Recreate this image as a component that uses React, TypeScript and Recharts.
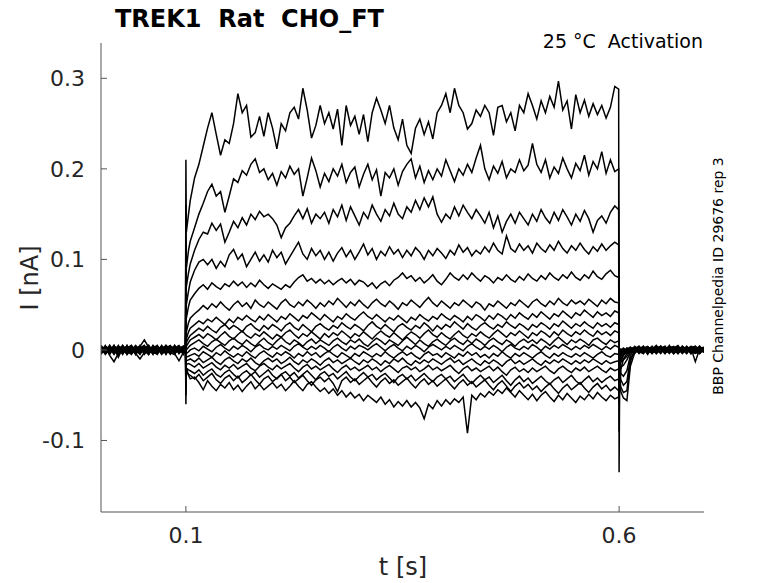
import { LineChart, Line, XAxis, YAxis } from "recharts";

// time grids in seconds
const preT = [
  0.002, 0.007, 0.012, 0.017, 0.022, 0.027, 0.032, 0.037, 0.042, 0.047,
  0.052, 0.057, 0.062, 0.067, 0.072, 0.077, 0.082, 0.087, 0.092, 0.097,
  0.0995,
];
const stepT = [
  0.1, 0.1005, 0.103,
  0.105, 0.11, 0.115, 0.12, 0.125, 0.13, 0.135, 0.14, 0.145, 0.15,
  0.155, 0.16, 0.165, 0.17, 0.175, 0.18, 0.185, 0.19, 0.195, 0.2,
  0.205, 0.21, 0.215, 0.22, 0.225, 0.23, 0.235, 0.24, 0.245, 0.25,
  0.255, 0.26, 0.265, 0.27, 0.275, 0.28, 0.285, 0.29, 0.295, 0.3,
  0.305, 0.31, 0.315, 0.32, 0.325, 0.33, 0.335, 0.34, 0.345, 0.35,
  0.355, 0.36, 0.365, 0.37, 0.375, 0.38, 0.385, 0.39, 0.395, 0.4,
  0.405, 0.41, 0.415, 0.42, 0.425, 0.43, 0.435, 0.44, 0.445, 0.45,
  0.455, 0.46, 0.465, 0.47, 0.475, 0.48, 0.485, 0.49, 0.495, 0.5,
  0.505, 0.51, 0.515, 0.52, 0.525, 0.53, 0.535, 0.54, 0.545, 0.55,
  0.555, 0.56, 0.565, 0.57, 0.575, 0.58, 0.585, 0.59, 0.595,
  0.5995,
];
const postT = [
  0.6, 0.6005, 0.602, 0.605, 0.609, 0.613,
  0.618, 0.623, 0.628, 0.633, 0.638, 0.643, 0.648, 0.653, 0.658, 0.663,
  0.668, 0.673, 0.678, 0.683, 0.688, 0.693, 0.698,
];

const yTicks = [-0.1, 0, 0.1, 0.2, 0.3];
const xTicks = [0.1, 0.6];

// current in nA, sweeps from top to bottom
const sweep1Pre = [0.002, -0.003, 0.004, -0.002, 0.003, -0.004, 0.001, 0.005, -0.002, 0.003, -0.004, 0.002, -0.001, 0.004, -0.003, 0.002, 0.005, -0.002, 0.001, -0.004, 0.0];
const sweep1Step = [
  0.21, 0.13, 0.15,
  0.165, 0.19, 0.205, 0.225, 0.245, 0.262, 0.238, 0.215, 0.232, 0.228,
  0.25, 0.283, 0.262, 0.27, 0.235, 0.24, 0.258, 0.236, 0.262, 0.245,
  0.222, 0.25, 0.242, 0.262, 0.268, 0.255, 0.289, 0.265, 0.234, 0.248,
  0.27, 0.25, 0.262, 0.244, 0.266, 0.226, 0.27, 0.248, 0.258, 0.238,
  0.26, 0.23, 0.262, 0.278, 0.265, 0.25, 0.27, 0.245, 0.232, 0.255,
  0.226, 0.217, 0.245, 0.255, 0.238, 0.252, 0.233, 0.262, 0.27, 0.283,
  0.262, 0.289, 0.27, 0.262, 0.244, 0.25, 0.265, 0.258, 0.27, 0.262,
  0.237, 0.268, 0.27, 0.252, 0.262, 0.242, 0.27, 0.262, 0.283, 0.27,
  0.255, 0.275, 0.262, 0.28, 0.268, 0.297, 0.265, 0.275, 0.244, 0.282,
  0.262, 0.276, 0.258, 0.272, 0.26, 0.27, 0.256, 0.268, 0.291,
  0.288,
];
const sweep1Post = [-0.135, -0.05, -0.022, -0.01, -0.004, -0.001, 0.003, -0.002, 0.004, -0.003, 0.001, 0.005, -0.002, 0.002, -0.004, 0.003, -0.001, 0.004, -0.003, 0.002, -0.002, 0.003, 0.0];

const sweep2Pre = [-0.004, 0.002, -0.001, 0.005, -0.003, 0.002, -0.005, 0.003, 0.001, -0.003, 0.004, -0.002, 0.003, -0.004, 0.002, -0.001, -0.004, 0.003, -0.002, 0.004, 0.001];
const sweep2Step = [
  0.16, 0.09, 0.11,
  0.12, 0.135, 0.15, 0.162, 0.175, 0.183, 0.17, 0.175, 0.152, 0.17,
  0.189, 0.185, 0.198, 0.193, 0.205, 0.211, 0.196, 0.2, 0.188, 0.195,
  0.182, 0.197, 0.19, 0.203, 0.194, 0.2, 0.17, 0.19, 0.212, 0.198,
  0.18, 0.195, 0.186, 0.2, 0.192, 0.205, 0.185, 0.196, 0.202, 0.18,
  0.194, 0.205, 0.188, 0.199, 0.17, 0.196, 0.19, 0.2, 0.182, 0.197,
  0.205, 0.211, 0.19, 0.203, 0.185, 0.198, 0.188, 0.2, 0.192, 0.21,
  0.198, 0.186, 0.2, 0.193, 0.205, 0.196, 0.212, 0.226, 0.2, 0.188,
  0.203, 0.195, 0.208, 0.19, 0.2, 0.196, 0.21, 0.198, 0.204, 0.228,
  0.205, 0.196, 0.21, 0.19, 0.202, 0.195, 0.212, 0.2, 0.19, 0.206,
  0.198, 0.215, 0.193, 0.208, 0.2, 0.219, 0.195, 0.21, 0.197,
  0.2,
];
const sweep2Post = [-0.09, -0.03, -0.013, -0.006, -0.002, 0.001, -0.003, 0.004, -0.001, 0.002, -0.004, 0.003, 0.001, -0.003, 0.005, -0.002, 0.002, -0.004, 0.001, 0.004, -0.003, 0.001, 0.002];

const sweep3Pre = [0.005, -0.001, 0.003, -0.005, 0.002, 0.004, -0.002, -0.004, 0.003, 0.001, -0.002, 0.005, -0.003, 0.001, 0.004, -0.004, 0.002, 0.004, -0.003, 0.002, -0.002];
const sweep3Step = [
  0.12, 0.07, 0.085,
  0.095, 0.11, 0.122, 0.13, 0.128, 0.14, 0.132, 0.139, 0.119, 0.13,
  0.142, 0.135, 0.146, 0.138, 0.15, 0.144, 0.153, 0.147, 0.15, 0.145,
  0.138, 0.124, 0.135, 0.14, 0.148, 0.155, 0.145, 0.156, 0.14, 0.15,
  0.145, 0.152, 0.14, 0.155, 0.147, 0.16, 0.143, 0.158, 0.148, 0.138,
  0.152, 0.145, 0.16, 0.15, 0.142, 0.155, 0.148, 0.162, 0.15, 0.145,
  0.158, 0.152, 0.165, 0.155, 0.168, 0.158, 0.169, 0.15, 0.141, 0.15,
  0.145, 0.158, 0.148, 0.16, 0.152, 0.145, 0.155, 0.148, 0.14, 0.152,
  0.135, 0.148, 0.13, 0.142, 0.15, 0.14, 0.152, 0.145, 0.138, 0.15,
  0.142, 0.155, 0.146, 0.14, 0.152, 0.143, 0.155, 0.147, 0.138, 0.15,
  0.142, 0.154, 0.145, 0.13, 0.143, 0.148, 0.14, 0.152, 0.159,
  0.155,
];
const sweep3Post = [-0.06, -0.02, -0.01, -0.005, 0.0, -0.002, 0.004, -0.001, 0.002, -0.005, 0.003, -0.002, 0.004, 0.0, -0.003, 0.002, 0.005, -0.002, 0.003, -0.004, 0.002, -0.001, -0.002];

const sweep4Pre = [0.0, 0.004, -0.006, -0.013, -0.004, 0.001, 0.003, -0.002, 0.004, -0.003, 0.002, -0.004, 0.005, -0.001, 0.002, 0.004, -0.003, -0.005, 0.003, -0.001, 0.002];
const sweep4Step = [
  0.09, 0.05, 0.065,
  0.075, 0.088, 0.097, 0.1, 0.094, 0.1, 0.09, 0.098, 0.092, 0.105,
  0.111, 0.1, 0.106, 0.092, 0.1, 0.108, 0.098, 0.105, 0.097, 0.11,
  0.102, 0.108, 0.095, 0.103, 0.111, 0.119, 0.106, 0.1, 0.112, 0.104,
  0.11, 0.1, 0.108, 0.098, 0.107, 0.113, 0.103, 0.11, 0.1, 0.108,
  0.117, 0.105, 0.112, 0.1, 0.109, 0.104, 0.114, 0.106, 0.111, 0.102,
  0.11, 0.104, 0.113, 0.108, 0.1, 0.11, 0.104, 0.112, 0.107, 0.101,
  0.11, 0.105, 0.116, 0.108, 0.113, 0.104, 0.11, 0.106, 0.114, 0.108,
  0.118, 0.11, 0.106, 0.126, 0.112, 0.108, 0.117, 0.11, 0.115, 0.107,
  0.118, 0.112, 0.108, 0.116, 0.11, 0.12, 0.112, 0.107, 0.115, 0.11,
  0.118, 0.111, 0.106, 0.114, 0.109, 0.117, 0.11, 0.115, 0.119,
  0.116,
];
const sweep4Post = [-0.04, -0.015, -0.007, -0.003, 0.002, -0.001, 0.001, 0.003, -0.004, 0.002, -0.001, 0.004, -0.003, 0.002, 0.001, -0.004, 0.003, -0.002, 0.004, -0.001, -0.003, 0.003, 0.001];

const sweep5Pre = [-0.002, 0.001, 0.004, -0.003, 0.005, -0.002, 0.002, -0.005, 0.001, 0.004, 0.011, 0.003, -0.003, 0.002, -0.004, 0.005, 0.001, -0.002, 0.004, -0.003, 0.003];
const sweep5Step = [
  0.07, 0.035, 0.048,
  0.055, 0.062, 0.068, 0.072, 0.067, 0.074, 0.07, 0.067, 0.073, 0.07,
  0.076, 0.071, 0.075, 0.069, 0.074, 0.07, 0.077, 0.072, 0.068, 0.073,
  0.07, 0.067, 0.072, 0.069, 0.075, 0.08, 0.083, 0.076, 0.079, 0.074,
  0.078, 0.073, 0.077, 0.072, 0.076, 0.079, 0.074, 0.078, 0.072, 0.077,
  0.075, 0.07, 0.074, 0.068, 0.073, 0.076, 0.071, 0.077, 0.08, 0.085,
  0.079, 0.082, 0.076, 0.08, 0.074, 0.078, 0.083, 0.076, 0.072, 0.078,
  0.085, 0.08, 0.077, 0.083, 0.078, 0.085, 0.08, 0.076, 0.082, 0.079,
  0.074, 0.08, 0.077, 0.083, 0.078, 0.075, 0.081, 0.077, 0.084, 0.079,
  0.076, 0.082, 0.078, 0.085, 0.08, 0.077, 0.083, 0.079, 0.086, 0.08,
  0.077, 0.083, 0.079, 0.087, 0.081, 0.078, 0.084, 0.088, 0.082,
  0.08,
];
const sweep5Post = [-0.03, -0.01, -0.005, -0.001, -0.003, 0.002, -0.002, 0.001, 0.004, -0.003, 0.002, -0.004, 0.001, 0.004, -0.002, 0.003, -0.004, 0.001, -0.001, 0.003, 0.004, -0.002, 0.002];

const sweep6Pre = [0.003, -0.005, 0.001, 0.003, -0.002, 0.005, -0.003, 0.002, -0.004, -0.01, -0.003, 0.004, -0.001, 0.003, -0.005, 0.001, 0.003, -0.004, -0.012, -0.003, 0.001];
const sweep6Step = [
  0.05, 0.02, 0.03,
  0.035, 0.04, 0.044, 0.049, 0.045, 0.051, 0.047, 0.053, 0.048, 0.044,
  0.05, 0.054, 0.048, 0.052, 0.046, 0.055, 0.05, 0.047, 0.053, 0.049,
  0.045, 0.052, 0.056, 0.05, 0.047, 0.053, 0.049, 0.055, 0.051, 0.046,
  0.052, 0.048, 0.054, 0.05, 0.057, 0.052, 0.047, 0.053, 0.049, 0.055,
  0.05, 0.046, 0.052, 0.056, 0.051, 0.048, 0.054, 0.05, 0.045, 0.052,
  0.049, 0.055, 0.051, 0.047, 0.053, 0.058, 0.052, 0.048, 0.054, 0.05,
  0.046, 0.052, 0.049, 0.055, 0.051, 0.047, 0.053, 0.05, 0.044, 0.051,
  0.048, 0.054, 0.05, 0.046, 0.052, 0.049, 0.055, 0.051, 0.047, 0.053,
  0.056, 0.051, 0.048, 0.054, 0.05, 0.057, 0.052, 0.049, 0.055, 0.051,
  0.054, 0.05, 0.056, 0.052, 0.048, 0.055, 0.051, 0.057, 0.053,
  0.052,
];
const sweep6Post = [-0.02, -0.008, -0.004, 0.001, -0.002, 0.003, 0.0, -0.003, 0.002, 0.004, -0.002, 0.001, -0.004, 0.003, -0.001, 0.002, -0.003, 0.004, 0.001, -0.002, -0.004, -0.002, 0.003];

const sweep7Pre = [-0.005, 0.003, -0.002, 0.001, 0.004, -0.004, 0.002, 0.005, -0.002, 0.003, -0.001, -0.005, 0.002, 0.004, -0.003, 0.001, -0.004, 0.002, 0.005, -0.002, -0.003];
const sweep7Step = [
  0.04, 0.012, 0.02,
  0.024, 0.028, 0.032, 0.029, 0.034, 0.031, 0.036, 0.032, 0.028, 0.034,
  0.03, 0.036, 0.033, 0.038, 0.034, 0.031, 0.037, 0.033, 0.039, 0.035,
  0.031, 0.037, 0.034, 0.04, 0.036, 0.032, 0.038, 0.035, 0.041, 0.037,
  0.033, 0.039, 0.035, 0.031, 0.037, 0.034, 0.04, 0.036, 0.033, 0.038,
  0.042, 0.037, 0.034, 0.039, 0.035, 0.031, 0.036, 0.033, 0.038, 0.034,
  0.03, 0.036, 0.033, 0.039, 0.035, 0.032, 0.037, 0.034, 0.04, 0.036,
  0.033, 0.038, 0.035, 0.031, 0.037, 0.033, 0.039, 0.036, 0.032, 0.038,
  0.034, 0.04, 0.037, 0.033, 0.039, 0.035, 0.041, 0.037, 0.034, 0.04,
  0.036, 0.042, 0.038, 0.034, 0.04, 0.037, 0.043, 0.039, 0.035, 0.041,
  0.038, 0.044, 0.04, 0.036, 0.042, 0.038, 0.041, 0.037, 0.043,
  0.041,
];
const sweep7Post = [-0.015, -0.006, -0.002, -0.002, 0.002, 0.0, 0.003, -0.004, 0.001, -0.001, 0.004, -0.003, 0.002, -0.002, 0.003, 0.0, 0.004, -0.003, 0.002, -0.004, 0.001, 0.003, -0.003];

const sweep8Pre = [0.004, -0.002, 0.002, -0.004, 0.001, 0.003, -0.005, 0.0, 0.005, -0.002, 0.001, 0.004, -0.004, -0.002, 0.003, -0.005, 0.004, 0.001, -0.002, 0.003, 0.0];
const sweep8Step = [
  0.03, 0.008, 0.013,
  0.016, 0.02, 0.024, 0.021, 0.026, 0.022, 0.019, 0.025, 0.028, 0.023,
  0.027, 0.024, 0.02, 0.026, 0.029, 0.024, 0.021, 0.027, 0.023, 0.028,
  0.025, 0.021, 0.027, 0.03, 0.025, 0.022, 0.028, 0.024, 0.02, 0.026,
  0.029, 0.025, 0.022, 0.027, 0.024, 0.03, 0.026, 0.023, 0.028, 0.025,
  0.021, 0.027, 0.031, 0.026, 0.023, 0.028, 0.024, 0.02, 0.026, 0.029,
  0.025, 0.022, 0.027, 0.024, 0.03, 0.026, 0.021, 0.027, 0.023, 0.028,
  0.025, 0.031, 0.027, 0.023, 0.029, 0.025, 0.022, 0.027, 0.03, 0.026,
  0.023, 0.028, 0.025, 0.031, 0.027, 0.024, 0.029, 0.026, 0.022, 0.028,
  0.025, 0.03, 0.027, 0.023, 0.029, 0.026, 0.032, 0.028, 0.024, 0.029,
  0.026, 0.031, 0.027, 0.024, 0.03, 0.026, 0.029, 0.025, 0.03,
  0.028,
];
const sweep8Post = [-0.012, -0.004, -0.001, 0.002, -0.001, -0.002, 0.002, 0.004, -0.003, 0.001, -0.004, 0.002, 0.004, -0.002, 0.0, -0.003, 0.002, 0.001, -0.004, 0.003, 0.002, -0.003, 0.001];

const sweep9Pre = [-0.003, 0.005, -0.004, 0.002, -0.008, 0.002, 0.004, -0.003, 0.001, -0.005, 0.003, 0.0, 0.004, -0.003, 0.005, -0.002, 0.001, -0.004, 0.002, 0.004, 0.002];
const sweep9Step = [
  0.02, 0.004, 0.008,
  0.011, 0.014, 0.017, 0.013, 0.018, 0.015, 0.011, 0.016, 0.02, 0.015,
  0.012, 0.017, 0.021, 0.016, 0.013, 0.018, 0.015, 0.02, 0.016, 0.012,
  0.017, 0.014, 0.019, 0.022, 0.017, 0.013, 0.018, 0.015, 0.02, 0.016,
  0.012, 0.018, 0.014, 0.019, 0.016, 0.021, 0.017, 0.013, 0.018, 0.015,
  0.02, 0.016, 0.012, 0.017, 0.021, 0.017, 0.014, 0.019, 0.015, 0.011,
  0.016, 0.02, 0.017, 0.013, 0.018, 0.022, 0.017, 0.014, 0.019, 0.015,
  0.012, 0.017, 0.021, 0.016, 0.013, 0.018, 0.015, 0.02, 0.016, 0.013,
  0.018, 0.022, 0.018, 0.014, 0.019, 0.016, 0.021, 0.017, 0.013, 0.019,
  0.016, 0.021, 0.018, 0.014, 0.02, 0.016, 0.022, 0.018, 0.015, 0.02,
  0.017, 0.022, 0.018, 0.015, 0.021, 0.017, 0.02, 0.016, 0.021,
  0.019,
];
const sweep9Post = [-0.01, -0.003, 0.0, -0.003, 0.001, 0.003, -0.004, 0.001, 0.003, -0.002, 0.002, -0.001, 0.003, -0.004, 0.002, 0.004, -0.002, -0.001, 0.003, -0.003, 0.001, 0.004, -0.001];

const sweep10Pre = [0.001, -0.004, 0.005, -0.001, 0.002, -0.003, 0.005, -0.004, 0.003, 0.001, -0.003, 0.002, -0.005, 0.004, -0.001, 0.003, -0.002, 0.005, -0.004, 0.001, -0.001];
const sweep10Step = [
  0.01, 0.0, 0.003,
  0.005, 0.008, 0.011, 0.007, 0.004, 0.009, 0.012, 0.008, 0.005, 0.01,
  0.013, 0.009, 0.006, 0.011, 0.007, 0.004, 0.009, 0.013, 0.008, 0.005,
  0.01, 0.014, 0.009, 0.006, 0.011, 0.008, 0.004, 0.009, 0.012, 0.007,
  0.011, 0.008, 0.005, 0.01, 0.013, 0.009, 0.006, 0.011, 0.008, 0.012,
  0.007, 0.004, 0.009, 0.013, 0.01, 0.006, 0.011, 0.008, 0.005, 0.01,
  0.014, 0.01, 0.006, 0.011, 0.007, 0.004, 0.009, 0.012, 0.008, 0.005,
  0.01, 0.013, 0.009, 0.006, 0.011, 0.007, 0.012, 0.009, 0.005, 0.01,
  0.013, 0.009, 0.006, 0.011, 0.008, 0.004, 0.009, 0.012, 0.008, 0.011,
  0.007, 0.012, 0.009, 0.005, 0.01, 0.014, 0.01, 0.006, 0.011, 0.008,
  0.012, 0.009, 0.005, 0.011, 0.013, 0.009, 0.006, 0.011, 0.008,
  0.01,
];
const sweep10Post = [-0.008, -0.002, 0.001, 0.0, -0.003, 0.001, 0.003, -0.002, -0.004, 0.003, 0.001, -0.002, 0.004, -0.001, -0.003, 0.002, 0.004, -0.003, 0.0, 0.002, -0.002, -0.004, 0.002];

const sweep11Pre = [-0.001, 0.002, -0.005, 0.004, -0.002, 0.003, -0.001, 0.004, -0.005, 0.002, 0.005, -0.003, 0.001, -0.002, 0.004, -0.004, 0.003, -0.001, 0.002, -0.005, 0.001];
const sweep11Step = [
  0.0, -0.004, -0.002,
  0.0, 0.002, -0.001, 0.004, 0.001, -0.002, 0.003, 0.006, 0.002, -0.001,
  0.004, 0.001, 0.005, 0.002, -0.002, 0.003, 0.006, 0.002, 0.0, 0.004,
  0.001, 0.005, 0.002, -0.001, 0.004, 0.007, 0.003, 0.0, 0.004, 0.001,
  0.005, 0.002, -0.002, 0.003, 0.006, 0.002, -0.001, 0.004, 0.001, 0.005,
  0.003, 0.0, 0.004, 0.007, 0.003, -0.001, 0.003, 0.006, 0.002, -0.001,
  0.004, 0.001, 0.005, 0.002, -0.002, 0.003, 0.006, 0.003, 0.0, 0.004,
  0.001, 0.005, 0.002, -0.001, 0.004, 0.007, 0.003, 0.0, 0.004, 0.001,
  0.005, 0.002, -0.002, 0.003, 0.006, 0.002, 0.0, 0.004, 0.001, 0.006,
  0.003, -0.001, 0.004, 0.001, 0.005, 0.002, 0.006, 0.003, 0.0, 0.004,
  0.001, 0.005, 0.002, 0.006, 0.003, 0.0, 0.004, 0.001, 0.005,
  0.003,
];
const sweep11Post = [-0.005, -0.007, -0.005, -0.003, 0.0, -0.001, -0.002, 0.003, 0.001, -0.004, 0.003, 0.002, -0.003, 0.001, 0.004, -0.004, 0.0, 0.003, -0.002, 0.001, 0.004, -0.001, -0.002];

const sweep12Pre = [0.004, 0.0, -0.003, 0.005, -0.004, -0.001, 0.003, -0.002, 0.004, -0.004, 0.001, -0.003, 0.004, 0.002, -0.004, 0.003, -0.005, 0.002, -0.001, 0.004, -0.003];
const sweep12Step = [
  -0.01, -0.008, -0.007,
  -0.006, -0.004, -0.007, -0.002, -0.005, -0.008, -0.003, -0.006, -0.001, -0.005,
  -0.008, -0.004, -0.007, -0.002, -0.006, -0.009, -0.004, -0.001, -0.005, -0.008,
  -0.003, -0.006, -0.002, -0.005, -0.009, -0.004, -0.007, -0.002, -0.006, -0.003,
  -0.008, -0.004, -0.001, -0.005, -0.008, -0.003, -0.006, -0.009, -0.004, -0.007,
  -0.002, -0.005, -0.008, -0.004, -0.007, -0.002, -0.006, -0.009, -0.005, -0.002,
  -0.006, -0.003, -0.007, -0.01, -0.005, -0.002, -0.006, -0.004, -0.008, -0.003,
  -0.006, -0.009, -0.004, -0.007, -0.002, -0.006, -0.003, -0.008, -0.005, -0.009,
  -0.004, -0.007, -0.002, -0.006, -0.009, -0.004, -0.007, -0.003, -0.006, -0.009,
  -0.005, -0.002, -0.006, -0.009, -0.004, -0.007, -0.003, -0.006, -0.008, -0.004,
  -0.007, -0.003, -0.006, -0.009, -0.005, -0.002, -0.006, -0.008, -0.004,
  -0.005,
];
const sweep12Post = [-0.008, -0.01, -0.013, -0.011, -0.007, -0.001, 0.002, -0.001, 0.003, -0.003, -0.001, 0.004, 0.001, -0.004, 0.002, -0.002, 0.003, 0.0, -0.003, 0.002, -0.001, 0.002, 0.003];

const sweep13Pre = [-0.002, 0.004, 0.001, -0.003, 0.003, -0.005, 0.004, 0.001, -0.003, 0.005, -0.002, 0.003, -0.004, 0.001, -0.002, 0.004, 0.002, -0.003, 0.004, -0.002, 0.001];
const sweep13Step = [
  -0.02, -0.012, -0.011,
  -0.01, -0.013, -0.009, -0.014, -0.011, -0.008, -0.013, -0.016, -0.011, -0.008,
  -0.012, -0.015, -0.01, -0.013, -0.009, -0.014, -0.017, -0.012, -0.009, -0.013,
  -0.01, -0.015, -0.012, -0.008, -0.013, -0.016, -0.011, -0.014, -0.01, -0.013,
  -0.017, -0.012, -0.009, -0.014, -0.011, -0.015, -0.012, -0.009, -0.013, -0.016,
  -0.011, -0.014, -0.01, -0.013, -0.017, -0.012, -0.015, -0.01, -0.013, -0.009,
  -0.014, -0.017, -0.012, -0.015, -0.011, -0.014, -0.01, -0.013, -0.016, -0.012,
  -0.009, -0.014, -0.011, -0.016, -0.013, -0.01, -0.014, -0.017, -0.012, -0.015,
  -0.011, -0.014, -0.018, -0.013, -0.01, -0.015, -0.012, -0.016, -0.013, -0.01,
  -0.014, -0.017, -0.012, -0.015, -0.011, -0.014, -0.01, -0.013, -0.016, -0.012,
  -0.015, -0.011, -0.014, -0.01, -0.013, -0.016, -0.012, -0.015, -0.013,
  -0.012,
];
const sweep13Post = [-0.012, -0.015, -0.019, -0.017, -0.011, -0.003, -0.001, 0.002, -0.003, 0.003, 0.001, -0.002, 0.002, 0.004, -0.003, 0.0, -0.004, 0.003, 0.001, -0.002, 0.003, -0.003, 0.0];

const sweep14Pre = [0.002, -0.004, 0.003, 0.001, -0.005, 0.004, -0.003, 0.003, -0.001, -0.004, 0.002, 0.005, -0.002, -0.005, 0.003, -0.001, 0.004, -0.004, 0.001, 0.003, 0.003];
const sweep14Step = [
  -0.03, -0.016, -0.015,
  -0.016, -0.019, -0.015, -0.02, -0.017, -0.014, -0.019, -0.022, -0.017, -0.02,
  -0.016, -0.021, -0.018, -0.015, -0.02, -0.023, -0.018, -0.015, -0.019, -0.022,
  -0.017, -0.021, -0.018, -0.015, -0.02, -0.024, -0.019, -0.016, -0.021, -0.018,
  -0.022, -0.019, -0.016, -0.021, -0.025, -0.02, -0.017, -0.022, -0.019, -0.023,
  -0.02, -0.017, -0.022, -0.019, -0.024, -0.02, -0.017, -0.021, -0.025, -0.02,
  -0.018, -0.022, -0.019, -0.024, -0.021, -0.017, -0.022, -0.019, -0.023, -0.02,
  -0.017, -0.022, -0.026, -0.021, -0.018, -0.023, -0.02, -0.024, -0.021, -0.018,
  -0.023, -0.019, -0.024, -0.028, -0.022, -0.019, -0.024, -0.021, -0.025, -0.02,
  -0.024, -0.021, -0.018, -0.023, -0.026, -0.021, -0.018, -0.022, -0.025, -0.02,
  -0.023, -0.019, -0.024, -0.021, -0.018, -0.022, -0.025, -0.02, -0.023,
  -0.021,
];
const sweep14Post = [-0.02, -0.018, -0.026, -0.029, -0.023, -0.006, 0.001, -0.003, 0.002, -0.001, 0.003, -0.004, 0.001, -0.002, 0.004, 0.002, -0.003, -0.001, 0.003, -0.004, 0.001, 0.002, 0.002];

const sweep15Pre = [-0.004, 0.001, -0.002, 0.004, 0.001, -0.003, 0.005, -0.004, 0.002, 0.004, -0.005, 0.001, 0.003, -0.003, 0.001, 0.005, -0.003, 0.003, -0.004, 0.002, -0.001];
const sweep15Step = [
  -0.04, -0.02, -0.022,
  -0.023, -0.026, -0.022, -0.028, -0.024, -0.021, -0.027, -0.03, -0.025, -0.022,
  -0.027, -0.031, -0.026, -0.023, -0.028, -0.024, -0.03, -0.026, -0.022, -0.028,
  -0.032, -0.027, -0.024, -0.029, -0.025, -0.031, -0.027, -0.023, -0.028, -0.033,
  -0.027, -0.024, -0.029, -0.026, -0.032, -0.028, -0.024, -0.03, -0.034, -0.029,
  -0.025, -0.03, -0.027, -0.033, -0.029, -0.026, -0.031, -0.036, -0.03, -0.027,
  -0.032, -0.028, -0.034, -0.03, -0.026, -0.031, -0.035, -0.03, -0.027, -0.032,
  -0.029, -0.035, -0.031, -0.027, -0.033, -0.037, -0.032, -0.028, -0.033, -0.03,
  -0.036, -0.032, -0.028, -0.034, -0.039, -0.033, -0.029, -0.035, -0.031, -0.037,
  -0.033, -0.029, -0.034, -0.038, -0.033, -0.03, -0.036, -0.032, -0.028, -0.034,
  -0.038, -0.033, -0.029, -0.035, -0.031, -0.036, -0.032, -0.029, -0.034,
  -0.032,
];
const sweep15Post = [-0.03, -0.024, -0.033, -0.039, -0.035, -0.009, -0.002, 0.002, -0.001, 0.003, -0.003, 0.001, 0.004, -0.002, 0.001, -0.004, 0.002, 0.003, -0.001, 0.002, -0.003, 0.004, -0.002];

const sweep16Pre = [0.003, -0.003, 0.005, -0.004, 0.002, 0.001, -0.004, 0.003, -0.005, 0.002, 0.003, -0.004, 0.002, 0.005, -0.004, -0.002, 0.004, -0.001, 0.003, -0.004, 0.002];
const sweep16Step = [
  -0.05, -0.024, -0.027,
  -0.028, -0.032, -0.027, -0.034, -0.03, -0.026, -0.033, -0.037, -0.031, -0.028,
  -0.034, -0.029, -0.036, -0.032, -0.027, -0.033, -0.038, -0.032, -0.029, -0.035,
  -0.031, -0.027, -0.034, -0.03, -0.036, -0.032, -0.028, -0.034, -0.039, -0.033,
  -0.03, -0.035, -0.031, -0.037, -0.046, -0.034, -0.03, -0.036, -0.032, -0.038,
  -0.034, -0.03, -0.036, -0.041, -0.035, -0.031, -0.037, -0.033, -0.039, -0.035,
  -0.031, -0.037, -0.042, -0.036, -0.032, -0.038, -0.034, -0.04, -0.036, -0.032,
  -0.038, -0.043, -0.037, -0.033, -0.039, -0.035, -0.041, -0.037, -0.033, -0.039,
  -0.044, -0.038, -0.034, -0.04, -0.046, -0.04, -0.036, -0.042, -0.038, -0.044,
  -0.04, -0.046, -0.041, -0.037, -0.043, -0.048, -0.042, -0.038, -0.044, -0.04,
  -0.036, -0.042, -0.047, -0.041, -0.037, -0.043, -0.039, -0.045, -0.041,
  -0.045,
];
const sweep16Post = [-0.042, -0.03, -0.041, -0.047, -0.045, -0.013, 0.0, -0.002, 0.003, 0.001, -0.003, -0.002, 0.003, 0.0, 0.004, -0.003, 0.001, -0.002, 0.004, -0.001, 0.002, -0.004, 0.001];

const sweep17Pre = [-0.001, 0.003, -0.004, 0.002, -0.001, 0.005, -0.002, -0.004, 0.004, -0.001, 0.002, -0.005, 0.004, 0.001, -0.003, 0.002, -0.004, 0.005, -0.002, 0.003, -0.002];
const sweep17Step = [
  -0.06, -0.02, -0.028,
  -0.032, -0.03, -0.036, -0.044, -0.034, -0.04, -0.045, -0.038, -0.042, -0.036,
  -0.044, -0.039, -0.046, -0.04, -0.035, -0.043, -0.038, -0.044, -0.04, -0.036,
  -0.042, -0.038, -0.045, -0.04, -0.034, -0.04, -0.045, -0.038, -0.035, -0.041,
  -0.046, -0.042, -0.048, -0.043, -0.05, -0.045, -0.052, -0.047, -0.053, -0.049,
  -0.056, -0.05, -0.054, -0.058, -0.052, -0.06, -0.055, -0.063, -0.057, -0.062,
  -0.056, -0.063, -0.058, -0.064, -0.076, -0.06, -0.065, -0.056, -0.062, -0.055,
  -0.06, -0.054, -0.058, -0.052, -0.092, -0.05, -0.055, -0.048, -0.052, -0.046,
  -0.05, -0.044, -0.048, -0.042, -0.047, -0.052, -0.045, -0.05, -0.055, -0.049,
  -0.056, -0.05, -0.046, -0.052, -0.057, -0.05, -0.055, -0.048, -0.053, -0.058,
  -0.051, -0.055, -0.049, -0.054, -0.047, -0.052, -0.056, -0.05, -0.054,
  -0.052,
];
const sweep17Post = [-0.05, -0.035, -0.046, -0.053, -0.056, -0.018, -0.003, 0.002, -0.002, 0.001, 0.003, -0.001, 0.004, -0.003, 0.0, 0.002, -0.002, 0.003, -0.004, 0.002, -0.013, 0.001, -0.001];

type Pt = { t: number; i: number };

function trace(pre: number[], step: number[], post: number[]): Pt[] {
  const pts: Pt[] = [];
  const add = (ts: number[], vs: number[]) =>
    vs.forEach((v, k) => {
      if (ts[k] !== undefined) pts.push({ t: ts[k], i: v });
    });
  add(preT, pre);
  add(stepT, step);
  add(postT, post);
  return pts;
}

const traces = [
  trace(sweep1Pre, sweep1Step, sweep1Post),
  trace(sweep2Pre, sweep2Step, sweep2Post),
  trace(sweep3Pre, sweep3Step, sweep3Post),
  trace(sweep4Pre, sweep4Step, sweep4Post),
  trace(sweep5Pre, sweep5Step, sweep5Post),
  trace(sweep6Pre, sweep6Step, sweep6Post),
  trace(sweep7Pre, sweep7Step, sweep7Post),
  trace(sweep8Pre, sweep8Step, sweep8Post),
  trace(sweep9Pre, sweep9Step, sweep9Post),
  trace(sweep10Pre, sweep10Step, sweep10Post),
  trace(sweep11Pre, sweep11Step, sweep11Post),
  trace(sweep12Pre, sweep12Step, sweep12Post),
  trace(sweep13Pre, sweep13Step, sweep13Post),
  trace(sweep14Pre, sweep14Step, sweep14Post),
  trace(sweep15Pre, sweep15Step, sweep15Post),
  trace(sweep16Pre, sweep16Step, sweep16Post),
  trace(sweep17Pre, sweep17Step, sweep17Post),
];

const FONT = "DejaVu Sans";
const AXIS = "#555555";
const TEXT = "#262626";

const YTick = (props: any) => {
  const { x, y, payload } = props;
  return (
    <g>
      <line x1={x} x2={x + 6} y1={y} y2={y} stroke={AXIS} />
      <text x={x - 16} y={y} dy="0.36em" textAnchor="end" fontSize={22} fontFamily={FONT} fill={TEXT}>
        {String(payload.value)}
      </text>
    </g>
  );
};

const XTick = (props: any) => {
  const { x, y, payload } = props;
  return (
    <g>
      <line x1={x} x2={x} y1={y} y2={y - 6} stroke={AXIS} />
      <text x={x} y={y + 31} textAnchor="middle" fontSize={22} fontFamily={FONT} fill={TEXT}>
        {String(payload.value)}
      </text>
    </g>
  );
};

export default function App() {
  return (
    <div style={{ position: "absolute", left: 0, top: 0, width: 778, height: 583, background: "#fff" }}>
      <LineChart width={778} height={583} margin={{ top: 43, right: 74, bottom: 31, left: 41 }}>
        <XAxis
          type="number"
          dataKey="t"
          domain={[0.002, 0.698]}
          ticks={xTicks}
          allowDataOverflow
          height={40}
          tickSize={0}
          tickMargin={0}
          axisLine={{ stroke: AXIS }}
          tickLine={false}
          tick={<XTick />}
        />
        <YAxis
          type="number"
          dataKey="i"
          domain={[-0.179, 0.339]}
          ticks={yTicks}
          allowDataOverflow
          width={60}
          tickSize={0}
          tickMargin={0}
          axisLine={{ stroke: AXIS }}
          tickLine={false}
          tick={<YTick />}
        />
        {traces.map((d, k) => (
          <Line
            key={k}
            data={d}
            dataKey="i"
            type="linear"
            stroke="#000"
            strokeWidth={1.5}
            dot={false}
            activeDot={false}
            isAnimationActive={false}
          />
        ))}
      </LineChart>
      <svg width={778} height={583} style={{ position: "absolute", left: 0, top: 0, pointerEvents: "none" }}>
        <text x={115} y={27} fontSize={24} fontWeight="bold" fontFamily={FONT} fill="#000" style={{ whiteSpace: "pre" }}>
          {"TREK1  Rat  CHO_FT"}
        </text>
        <text x={703} y={48} textAnchor="end" fontSize={19} fontFamily={FONT} fill="#000" style={{ whiteSpace: "pre" }}>
          {"25 °C  Activation"}
        </text>
        <text transform="translate(723,276) rotate(-90)" textAnchor="middle" fontSize={14} fontFamily={FONT} fill="#000">
          BBP Channelpedia ID 29676 rep 3
        </text>
        <text transform="translate(38,278) rotate(-90)" textAnchor="middle" fontSize={24} fontFamily={FONT} fill={TEXT}>
          I [nA]
        </text>
        <text x={403} y={575} textAnchor="middle" fontSize={24} fontFamily={FONT} fill={TEXT}>
          t [s]
        </text>
      </svg>
    </div>
  );
}
